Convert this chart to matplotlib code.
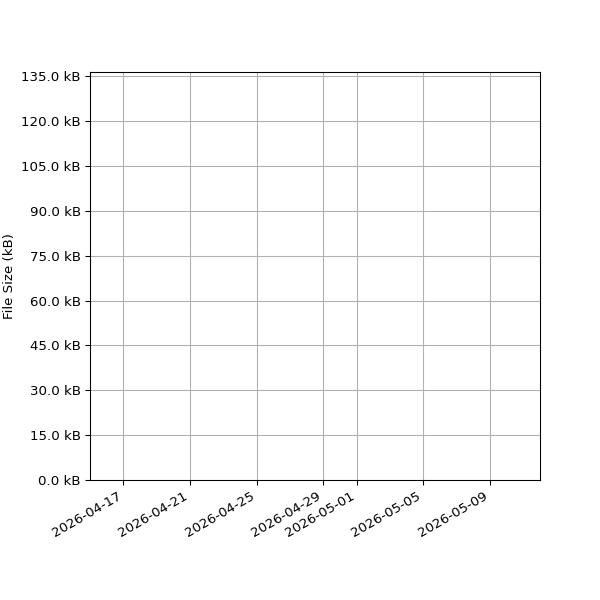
import matplotlib
matplotlib.use("Agg")
import matplotlib.pyplot as plt
import matplotlib.dates as mdates
import matplotlib.ticker as mticker
from datetime import datetime

# Define constants
# No file size records are drawn in the reference, only the axis window
date_range = ["2026-04-15", "2026-05-12"]
size_range_kb = [0, 136.4]
size_step_kb = 15
y_label = "File Size (kB)"


def plot_file_sizes():
    dates = [datetime.strptime(d, "%Y-%m-%d") for d in date_range]

    fig, ax = plt.subplots(figsize=(6.25, 6.25), dpi=96)
    ax.plot([], [])
    ax.set_xlim(dates[0], dates[1])
    ax.set_ylim(size_range_kb[0], size_range_kb[1])

    ax.xaxis.set_major_locator(mdates.AutoDateLocator())
    ax.xaxis.set_major_formatter(mdates.DateFormatter("%Y-%m-%d"))
    ax.yaxis.set_major_locator(mticker.MultipleLocator(size_step_kb))
    ax.yaxis.set_major_formatter(mticker.FuncFormatter(lambda v, _: f"{v:.1f} kB"))

    ax.set_ylabel(y_label)
    ax.grid(True)
    fig.autofmt_xdate()
    fig.subplots_adjust(left=0.15, right=0.9, top=0.88, bottom=0.2)
    fig.savefig("out.png", dpi=96)


if __name__ == "__main__":
    plot_file_sizes()
